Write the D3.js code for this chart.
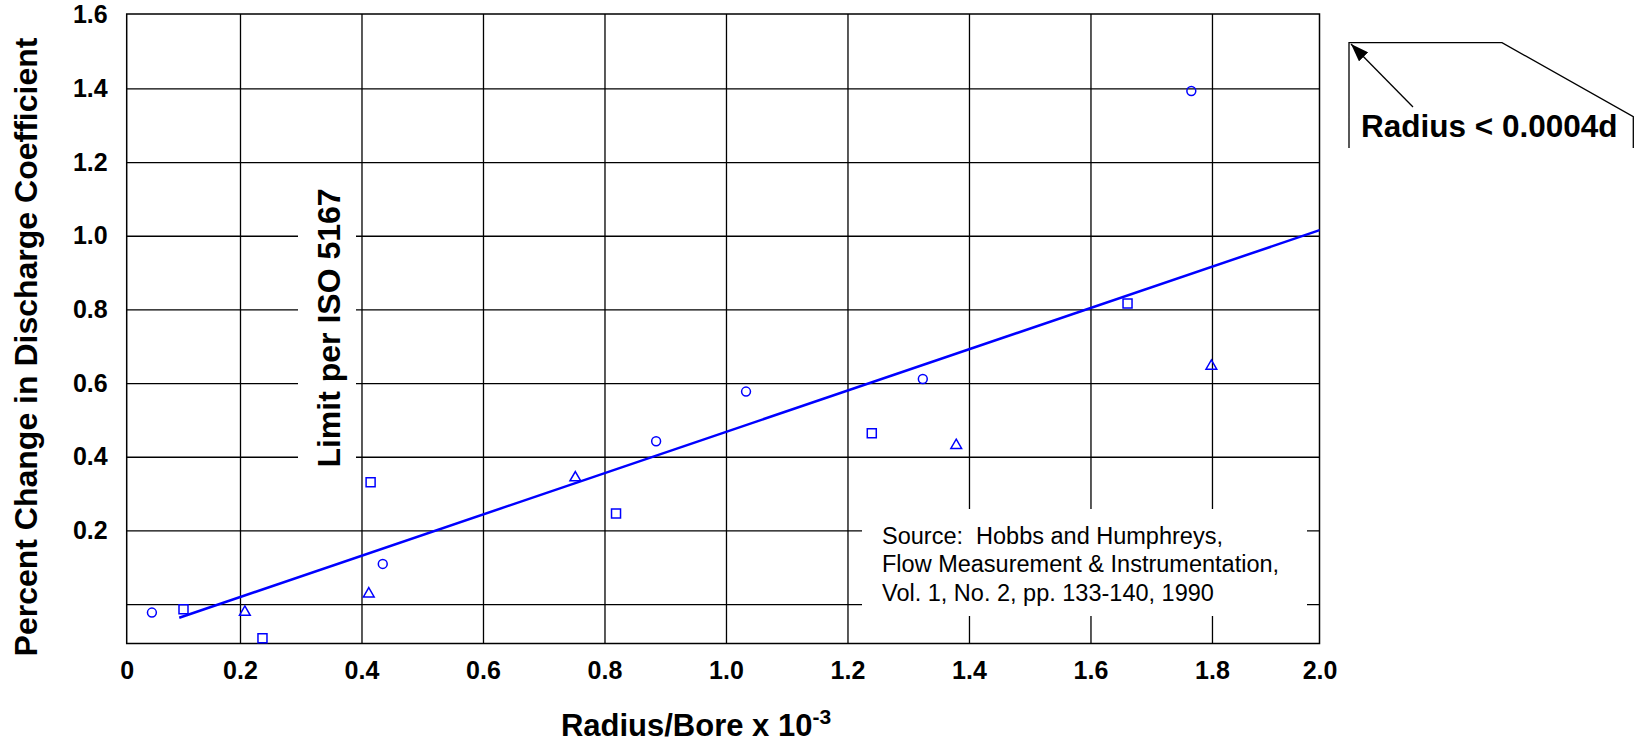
<!DOCTYPE html>
<html>
<head>
<meta charset="utf-8">
<style>
    body {
        margin: 0;
        background-color: white;
    }
    text {
        font-family: "Liberation Sans", Arial, sans-serif;
        fill: black;
    }
    .grid line {
        stroke: black;
        stroke-width: 1.3;
    }
    .grid path {
        display: none;
    }
    .labels path, .labels line {
        display: none;
    }
    .labels text {
        font-size: 25px;
        font-weight: bold;
    }
    .frame {
        fill: none;
        stroke: black;
        stroke-width: 1.5;
    }
    .mark {
        fill: none;
        stroke: #0000ff;
        stroke-width: 1.5;
    }
    .trend {
        fill: none;
        stroke: #0000ff;
        stroke-width: 2.5;
    }
    .note line, .note path {
        stroke: black;
        stroke-width: 1.3;
        fill: none;
    }
</style>
</head>
<body>
<script src="https://cdn.jsdelivr.net/npm/d3@7"></script>
<script>
(function() {

    // axis ticks
    var xGrid = [0.2, 0.4, 0.6, 0.8, 1.0, 1.2, 1.4, 1.6, 1.8];
    var xTickLabels = ["0", "0.2", "0.4", "0.6", "0.8", "1.0", "1.2", "1.4", "1.6", "1.8", "2.0"];
    var yGrid = [0, 0.2, 0.4, 0.6, 0.8, 1.0, 1.2, 1.4];
    var yTicks = [0.2, 0.4, 0.6, 0.8, 1.0, 1.2, 1.4, 1.6];
    var yTickLabels = ["0.2", "0.4", "0.6", "0.8", "1.0", "1.2", "1.4", "1.6"];

    // data (three symbol series)
    var circleX = [0.055, 0.435, 0.885, 1.033, 1.324, 1.766];
    var circleY = [-0.023, 0.109, 0.442, 0.577, 0.611, 1.393];
    var squareX = [0.107, 0.237, 0.415, 0.819, 1.240, 1.661];
    var squareY = [-0.014, -0.093, 0.331, 0.246, 0.464, 0.816];
    var triangleX = [0.208, 0.412, 0.752, 1.379, 1.799];
    var triangleY = [-0.022, 0.028, 0.343, 0.431, 0.646];

    // fitted line
    var trendX = [0.1, 2.0];
    var trendY = [-0.037, 1.028];

    var xExtent = [0.0135, 1.977];
    var yExtent = [-0.107, 1.602];

    var width = 1640, height = 745;
    var plot = { left: 126.7, right: 1319.5, top: 14, bottom: 643.5 };

    var svg = d3.select("body")
            .append("svg")
            .attr("width", width)
            .attr("height", height)
            .style("background-color", "white");

    var x = d3.scaleLinear().domain(xExtent).range([plot.left, plot.right]);
    var y = d3.scaleLinear().domain(yExtent).range([plot.bottom, plot.top]);

    // grid
    svg.append("g")
            .classed("grid", 1)
            .attr("transform", "translate(0," + plot.bottom + ")")
            .call(d3.axisBottom(x).tickValues(xGrid).tickSize(-(plot.bottom - plot.top)).tickFormat(""));

    svg.append("g")
            .classed("grid", 1)
            .attr("transform", "translate(" + plot.left + ",0)")
            .call(d3.axisLeft(y).tickValues(yGrid).tickSize(-(plot.right - plot.left)).tickFormat(""));

    // white boxes behind the two notes inside the plot
    svg.append("rect")
            .attr("x", 298).attr("y", 178)
            .attr("width", 58).attr("height", 310)
            .attr("fill", "white");

    svg.append("rect")
            .attr("x", 862).attr("y", 509)
            .attr("width", 445).attr("height", 107)
            .attr("fill", "white");

    svg.append("rect")
            .classed("frame", 1)
            .attr("x", plot.left)
            .attr("y", plot.top)
            .attr("width", plot.right - plot.left)
            .attr("height", plot.bottom - plot.top);

    // tick labels
    var xLabelValues = [xExtent[0]].concat(xGrid, [xExtent[1]]);
    svg.append("g")
            .classed("labels", 1)
            .attr("transform", "translate(0," + plot.bottom + ")")
            .call(d3.axisBottom(x).tickValues(xLabelValues).tickSize(0).tickPadding(18)
                .tickFormat(function(d, i) { return xTickLabels[i]; }));

    svg.append("g")
            .classed("labels", 1)
            .attr("transform", "translate(" + (plot.left - 19) + ",0)")
            .call(d3.axisLeft(y).tickValues(yTicks).tickSize(0).tickPadding(0)
                .tickFormat(function(d, i) { return yTickLabels[i]; }));

    // fitted line, clipped to the frame
    svg.append("clipPath")
            .attr("id", "plot-clip")
            .append("rect")
            .attr("x", plot.left).attr("y", plot.top)
            .attr("width", plot.right - plot.left)
            .attr("height", plot.bottom - plot.top);

    var line = d3.line()
            .x(function(d) { return x(d[0]); })
            .y(function(d) { return y(d[1]); });

    svg.append("path")
            .classed("trend", 1)
            .attr("clip-path", "url(#plot-clip)")
            .attr("d", line(d3.zip(trendX, trendY)));

    // markers
    var series = [
        { xs: circleX, ys: circleY, symbol: d3.symbolCircle, size: 62 },
        { xs: squareX, ys: squareY, symbol: d3.symbolSquare, size: 81 },
        { xs: triangleX, ys: triangleY, symbol: d3.symbolTriangle, size: 50 }
    ];

    series.forEach(function(s) {
        svg.append("g")
                .selectAll("path")
                .data(d3.zip(s.xs, s.ys))
                .enter()
                .append("path")
                .classed("mark", 1)
                .attr("transform", function(d) {
                    return "translate(" + x(d[0]) + "," + y(d[1]) + ")";
                })
                .attr("d", d3.symbol().type(s.symbol).size(s.size));
    });

    // axis titles
    svg.append("text")
            .attr("transform", "translate(37,347) rotate(-90)")
            .attr("text-anchor", "middle")
            .style("font-size", "32px")
            .style("font-weight", "bold")
            .text("Percent Change in Discharge Coefficient");

    var xt = svg.append("text")
            .attr("x", 696)
            .attr("y", 736)
            .attr("text-anchor", "middle")
            .style("font-size", "31px")
            .style("font-weight", "bold");
    xt.append("tspan").text("Radius/Bore x 10");
    xt.append("tspan").attr("dy", -12).style("font-size", "21px").text("-3");

    // ISO limit note
    svg.append("text")
            .attr("transform", "translate(340,328) rotate(-90)")
            .attr("text-anchor", "middle")
            .style("font-size", "32px")
            .style("font-weight", "bold")
            .text("Limit per ISO 5167");

    // source note
    var src = svg.append("text")
            .style("font-size", "23.5px");
    ["Source:  Hobbs and Humphreys,",
     "Flow Measurement & Instrumentation,",
     "Vol. 1, No. 2, pp. 133-140, 1990"].forEach(function(t, i) {
        src.append("tspan")
                .attr("x", 882)
                .attr("y", 544 + i * 28.3)
                .attr("xml:space", "preserve")
                .text(t);
    });

    // radius annotation at the top right
    var note = svg.append("g").classed("note", 1);

    note.append("path")
            .attr("d", "M1349,148 L1349,42.7 L1502,42.7 L1633.3,116.7 L1633.3,148");

    svg.append("defs")
            .append("marker")
            .attr("id", "arrow")
            .attr("viewBox", "0 0 18 13")
            .attr("refX", 18).attr("refY", 6.5)
            .attr("markerWidth", 18).attr("markerHeight", 13)
            .attr("markerUnits", "userSpaceOnUse")
            .attr("orient", "auto")
            .append("path")
            .attr("d", "M0,0 L18,6.5 L0,13 Z")
            .attr("fill", "black");

    note.append("line")
            .attr("x1", 1413).attr("y1", 107)
            .attr("x2", 1351).attr("y2", 44)
            .attr("marker-end", "url(#arrow)");

    svg.append("text")
            .attr("x", 1361)
            .attr("y", 137)
            .style("font-size", "31.5px")
            .style("font-weight", "bold")
            .text("Radius < 0.0004d");

})();
</script>
</body>
</html>
